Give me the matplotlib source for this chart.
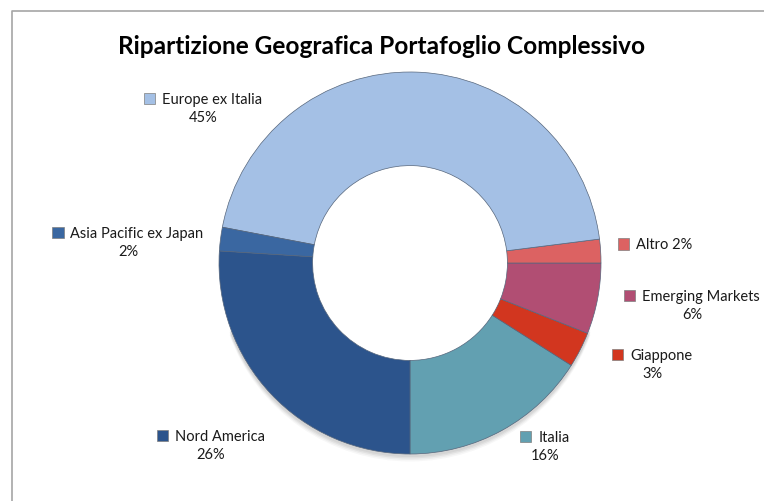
import matplotlib.pyplot as plt
from matplotlib.lines import Line2D
from matplotlib.patches import Rectangle, Wedge
from matplotlib.offsetbox import (AnnotationBbox, DrawingArea, HPacker,
                                  TextArea, VPacker)

plt.rcParams['font.family'] = ['Lato', 'DejaVu Sans']

# Slices, counterclockwise from the bottom (270 deg)
names = ['Italia', 'Giappone', 'Emerging Markets', 'Altro',
         'Europe ex Italia', 'Asia Pacific ex Japan', 'Nord America']
values = [16, 3, 6, 2, 45, 2, 26]
colors = ['#62a0b1', '#d2361f', '#b14e73', '#dc6262',
          '#a4c0e5', '#3a67a1', '#2c548c']
# label block centres in pixels (x, y from top)
label_pos = [(545, 447), (652, 365), (692, 306), (655, 245),
             (203, 109), (128, 243), (211, 446)]
one_line = ['Altro']

W, H = 764, 502
fig = plt.figure(figsize=(W / 100, H / 100), dpi=100)
ax = fig.add_axes([0, 0, 1, 1])

cx, cy, r = 410, H - 264, 191

# soft shadow under the ring
for i, a in enumerate([0.05, 0.05, 0.04, 0.03]):
    ax.add_patch(Wedge((cx, cy - 2 - i * 1.5), r + 1, 200, 340, width=r * 0.5,
                       color='black', alpha=a, lw=0))

wedges, _ = ax.pie(values, colors=colors, startangle=270, counterclock=True,
                   center=(cx, cy), radius=r,
                   wedgeprops=dict(width=r * 0.49, edgecolor='#56667c', lw=0.5))
ax.set_xlim(0, W)
ax.set_ylim(0, H)
ax.set_aspect('equal')
ax.axis('off')

# chart frame (only top/left edge inside the picture)
fig.add_artist(Line2D([11.5 / W, 11.5 / W, 1.0], [0, 1 - 11.5 / H, 1 - 11.5 / H],
                      transform=fig.transFigure, color='#a6a6a6', lw=1.2))

ax.text(382, H - 46, 'Ripartizione Geografica Portafoglio Complessivo',
        ha='center', va='center', fontsize=17.6, fontweight='bold')

for name, v, col, (px, py) in zip(names, values, colors, label_pos):
    da = DrawingArea(8, 8)
    da.add_artist(Rectangle((0, 0), 8, 8, facecolor=col, edgecolor='#7f7f7f',
                            lw=0.5))
    tprops = dict(fontsize=10.5, color='#1a1a1a')
    if name in one_line:
        box = HPacker(children=[da, TextArea(f'{name} {v}%', textprops=tprops)],
                      align='center', pad=0, sep=5)
    else:
        row = HPacker(children=[da, TextArea(name, textprops=tprops)],
                      align='center', pad=0, sep=5)
        box = VPacker(children=[row, TextArea(f'{v}%', textprops=tprops)],
                      align='center', pad=0, sep=3)
    ab = AnnotationBbox(box, (px, H - py), frameon=False, box_alignment=(0.5, 0.5))
    ax.add_artist(ab)

fig.savefig('out.png', dpi=100)
